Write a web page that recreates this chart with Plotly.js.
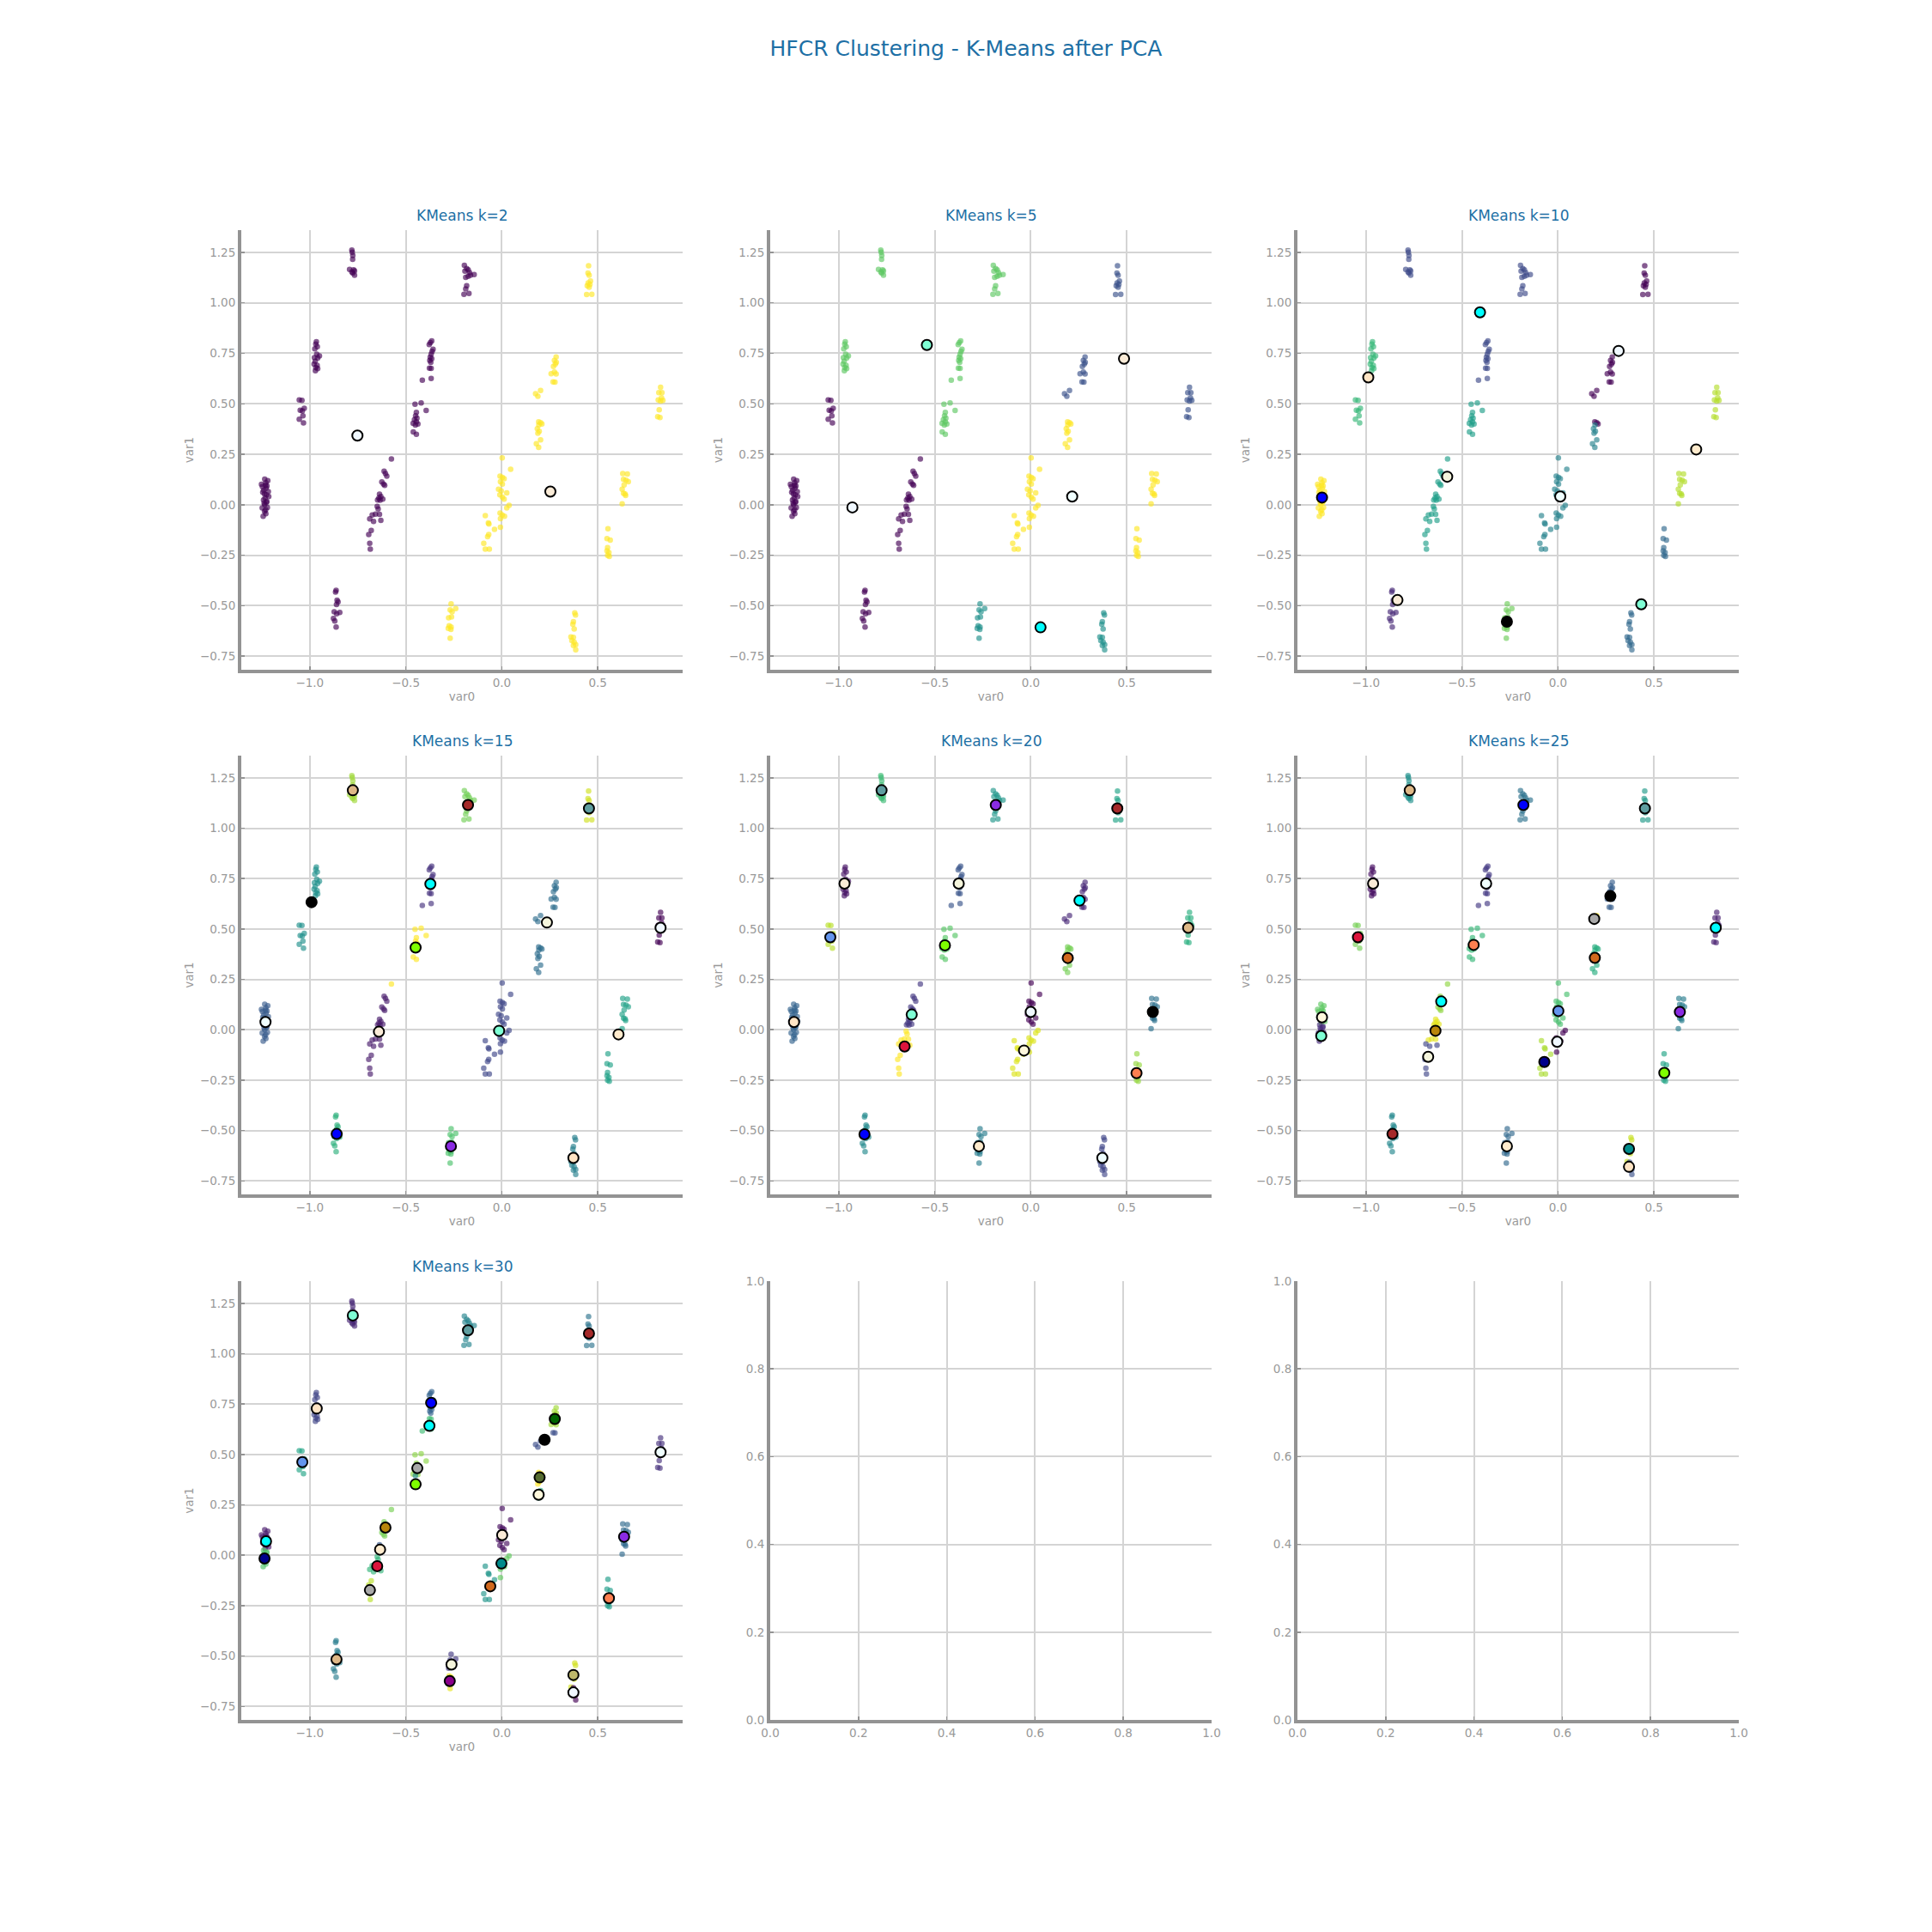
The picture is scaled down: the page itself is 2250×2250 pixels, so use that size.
<!DOCTYPE html>
<html><head><meta charset="utf-8">
<script src="https://cdn.plot.ly/plotly-3.0.1.min.js"></script>
<style>html,body{margin:0;padding:0;background:#fff}#chart{width:2250px;height:2250px}</style>
</head><body><div id="chart"></div>
<script>
// ---- data points (var0, var1) and their sub-group index ----
const pointX = [
-1.235,-1.219,-1.252,-1.247,-1.229,-1.223,-1.228,-1.240,-1.216,-1.236,-1.226,-1.214,-1.233,-1.245,-1.231,
-1.241,-1.224,-1.238,-1.235,-1.221,-1.248,-1.230,-1.236,-1.229,-1.243,-1.226,
-0.781,-0.779,-0.776,-0.777,-0.793,-0.772,-0.767,-0.776,-0.767,-0.781,
-0.966,-0.969,-0.961,-0.974,-0.964,-0.950,-0.976,-0.959,-0.972,-0.978,-0.962,-0.969,-0.971,-0.959,
-1.055,-1.041,-1.050,-1.039,-1.029,-1.036,-1.055,-1.033,
-0.365,-0.372,-0.378,-0.358,-0.363,-0.368,-0.373,-0.365,-0.375,-0.370,
-0.377,-0.368,-0.414,-0.368,
-0.452,-0.420,-0.394,-0.445,-0.449,-0.442,-0.455,-0.445,-0.462,-0.437,
-0.450,-0.461,-0.445,
-0.195,-0.183,-0.175,-0.192,-0.168,-0.144,-0.175,-0.188,-0.183,-0.188,-0.197,-0.171,-0.163,
-0.575,
-0.613,-0.606,-0.599,-0.625,-0.616,-0.610,
-0.637,-0.630,-0.640,-0.620,-0.647,-0.634,
-0.649,-0.644,-0.658,-0.637,-0.675,
-0.688,-0.668,-0.630,
-0.680,-0.693,-0.688,-0.685,
-0.863,-0.866,-0.858,-0.853,-0.861,-0.873,-0.844,-0.860,-0.877,-0.870,-0.863,
-0.264,-0.240,-0.269,-0.259,-0.277,-0.262,
-0.274,-0.264,-0.279,-0.265,-0.269,
0.002,0.046,-0.009,0.003,0.012,-0.007,0.003,-0.017,-0.003,0.026,-0.010,0.003,0.012,
0.038,0.026,-0.009,0.002,0.014,-0.007,-0.007,
-0.086,-0.070,-0.067,-0.038,-0.068,-0.074,-0.094,-0.086,-0.065,
0.192,0.202,0.209,
0.193,0.185,0.195,0.188,
0.202,0.180,0.192,
0.176,0.188,0.202,
0.267,0.277,
0.283,0.274,0.284,0.269,0.257,0.274,0.283,0.279,
0.452,0.449,0.455,0.462,0.450,0.445,0.455,0.459,0.442,0.469,
0.827,0.834,0.818,0.815,0.827,0.839,0.820,0.812,0.824,0.832,
0.630,0.654,0.634,0.647,0.659,0.637,0.627,0.634,0.645,0.627,0.642,
0.553,0.548,0.565,0.551,0.548,0.558,0.551,0.560,
0.380,0.384,0.373,0.370,0.377,0.360,
0.373,0.365,0.377,0.385,0.373,0.385
];
const pointY = [
0.127,0.119,0.101,0.090,0.109,0.093,0.082,0.073,0.065,0.054,0.049,0.041,0.033,0.062,0.097,
0.024,0.016,0.008,0.000,-0.013,-0.016,-0.025,-0.033,-0.044,-0.057,0.012,
1.261,1.251,1.235,1.215,1.166,1.163,1.158,1.147,1.137,1.153,
0.807,0.796,0.783,0.772,0.746,0.737,0.729,0.726,0.710,0.697,0.690,0.680,0.664,0.674,
0.519,0.517,0.468,0.465,0.478,0.440,0.424,0.405,
0.812,0.803,0.793,0.770,0.759,0.746,0.731,0.723,0.715,0.705,
0.677,0.675,0.617,0.626,
0.498,0.504,0.467,0.457,0.440,0.429,0.421,0.411,0.403,0.400,
0.395,0.361,0.349,
1.186,1.170,1.163,1.157,1.150,1.140,1.131,1.126,1.085,1.069,1.042,1.046,1.137,
0.227,
0.166,0.155,0.142,0.113,0.103,0.096,
0.052,0.041,0.033,0.028,0.024,0.023,
-0.008,-0.021,-0.046,-0.047,-0.051,
-0.070,-0.082,-0.077,
-0.127,-0.147,-0.191,-0.220,
-0.424,-0.432,-0.473,-0.481,-0.494,-0.530,-0.533,-0.540,-0.563,-0.576,-0.605,
-0.491,-0.514,-0.520,-0.530,-0.560,-0.556,
-0.599,-0.605,-0.612,-0.617,-0.661,
0.232,0.176,0.142,0.135,0.129,0.114,0.103,0.077,0.069,0.059,0.049,0.038,0.028,
-0.003,-0.016,-0.041,-0.051,-0.057,-0.069,-0.111,
-0.054,-0.090,-0.095,-0.122,-0.147,-0.158,-0.191,-0.220,-0.220,
0.411,0.406,0.400,
0.395,0.377,0.364,0.354,
0.321,0.302,0.284,
0.550,0.537,0.566,
0.608,0.607,
0.732,0.715,0.705,0.685,0.649,0.657,0.648,0.697,
1.184,1.147,1.137,1.108,1.098,1.085,1.077,1.091,1.041,1.042,
0.582,0.555,0.555,0.519,0.514,0.517,0.470,0.436,0.432,0.530,
0.155,0.152,0.126,0.122,0.114,0.098,0.077,0.057,0.046,0.005,0.054,
-0.119,-0.168,-0.175,-0.212,-0.228,-0.237,-0.250,-0.256,
-0.535,-0.546,-0.579,-0.592,-0.615,-0.654,
-0.657,-0.672,-0.680,-0.693,-0.697,-0.718
];
const pointGroup = [
0,0,0,0,0,0,0,0,0,0,0,0,0,0,0,
1,1,1,1,1,1,1,1,1,1,1,
2,2,2,2,2,2,2,2,2,2,
3,3,3,3,3,3,3,3,3,3,3,3,3,3,
4,4,4,4,4,4,4,4,
5,5,5,5,5,5,5,5,5,5,
6,6,6,6,
7,7,7,7,7,7,7,7,7,7,
8,8,8,
9,9,9,9,9,9,9,9,9,9,9,9,9,
10,
11,11,11,11,11,11,
12,12,12,12,12,12,
13,13,13,13,13,
14,14,14,
15,15,15,15,
16,16,16,16,16,16,16,16,16,16,16,
17,17,17,17,17,17,
18,18,18,18,18,
19,19,19,19,19,19,19,19,19,19,19,19,19,
20,20,20,20,20,20,20,
21,21,21,21,21,21,21,21,21,
22,22,22,
23,23,23,23,
24,24,24,
25,25,25,
26,26,
27,27,27,27,27,27,27,27,
28,28,28,28,28,28,28,28,28,28,
29,29,29,29,29,29,29,29,29,29,
30,30,30,30,30,30,30,30,30,30,30,
31,31,31,31,31,31,31,31,
32,32,32,32,32,32,
33,33,33,33,33,33
];

// ---- cluster label of each sub-group, per k ----
const kValues = [2, 5, 10, 15, 20, 25, 30];
const labelsK2  = [0,0,0,0,0,0,0,0,0,0,0,0,0,0,0,0,0,1,1,1,1,1,1,1,1,1,1,1,1,1,1,1,1,1];
const labelsK5  = [0,0,3,3,0,3,3,3,3,3,0,0,0,0,0,0,0,2,2,4,4,4,4,4,4,1,1,1,1,1,4,4,2,2];
const labelsK10 = [9,9,2,6,6,2,2,5,5,2,5,5,5,5,5,5,1,7,7,4,4,4,0,4,4,0,0,0,0,8,8,3,3,3];
const labelsK15 = [4,4,12,7,7,2,2,14,14,11,14,1,1,1,1,1,9,10,10,3,3,3,5,5,5,5,5,5,13,0,8,8,6,6];
const labelsK20 = [6,6,13,1,17,5,5,14,14,10,3,3,3,19,19,19,9,8,8,0,18,18,15,15,15,2,2,2,11,12,7,16,4,4];
const labelsK25 = [18,3,12,1,19,4,4,16,16,9,20,20,23,23,5,5,11,8,8,17,0,21,15,15,15,24,7,7,13,2,10,14,22,6];
const labelsK30 = [2,21,3,6,17,9,20,24,14,13,23,23,8,19,19,26,12,5,28,1,22,15,29,29,18,7,7,25,11,4,10,16,27,0];

// ---- centroids (label order) ----
const centX2  = [-0.752, 0.253];
const centY2  = [0.343, 0.065];
const centX5  = [-0.929, 0.486, 0.051, -0.541, 0.216];
const centY5  = [-0.013, 0.723, -0.607, 0.791, 0.041];
const centX10 = [0.316, -0.836, -0.406, 0.434, 0.012, -0.577, -0.988, -0.266, 0.720, -1.229];
const centY10 = [0.762, -0.472, 0.953, -0.493, 0.041, 0.139, 0.631, -0.579, 0.274, 0.036];
const centX15 = [0.827, -0.640, -0.372, -0.014, -1.231, 0.235, 0.373, -0.991, 0.608, -0.860, -0.265, -0.176, -0.776, 0.454, -0.449];
const centY15 = [0.506, -0.010, 0.723, -0.005, 0.038, 0.532, -0.636, 0.633, -0.023, -0.517, -0.578, 1.115, 1.188, 1.098, 0.408];
const centX20 = [0.000, -0.970, 0.254, -0.620, 0.373, -0.375, -1.233, 0.636, -0.270, -0.866, -0.182, 0.451, 0.820, -0.777, -0.447, 0.193, 0.551, -1.044, -0.035, -0.657];
const centY20 = [0.088, 0.725, 0.641, 0.075, -0.636, 0.725, 0.038, 0.088, -0.578, -0.519, 1.115, 1.098, 0.506, 1.188, 0.419, 0.356, -0.215, 0.459, -0.103, -0.083];
const centX25 = [-0.004, -0.963, 0.822, -1.233, -0.374, -0.676, 0.370, 0.273, -0.266, -0.180, 0.635, -0.862, -0.772, 0.453, 0.554, 0.192, -0.439, 0.002, -1.229, -1.042, -0.608, -0.071, 0.370, -0.638, 0.189];
const centY25 = [-0.060, 0.725, 0.506, -0.031, 0.725, -0.134, -0.680, 0.663, -0.578, 1.115, 0.088, -0.517, 1.188, 1.098, -0.214, 0.357, 0.421, 0.093, 0.062, 0.459, 0.140, -0.160, -0.591, -0.005, 0.550];
const centX30 = [0.373, 0.002, -1.228, -0.776, 0.827, -0.262, -0.964, 0.223, -0.634, -0.368, 0.637, 0.454, -0.861, -0.176, -0.449, -0.060, 0.558, -1.039, 0.192, -0.649, -0.377, -1.236, -0.002, -0.606, -0.440, 0.276, -0.687, 0.373, -0.271, 0.197];
const centY30 = [-0.681, 0.100, 0.069, 1.190, 0.511, -0.542, 0.728, 0.573, 0.028, 0.756, 0.092, 1.100, -0.517, 1.116, 0.352, -0.154, -0.213, 0.462, 0.300, -0.054, 0.642, -0.016, -0.041, 0.137, 0.432, 0.676, -0.173, -0.594, -0.624, 0.386];

const centroidColors = ['aliceblue','antiquewhite','aqua','aquamarine','azure','beige','bisque','black','blanchedalmond','blue','blueviolet','brown','burlywood','cadetblue','chartreuse','chocolate','coral','cornflowerblue','cornsilk','crimson','cyan','darkblue','darkcyan','darkgoldenrod','darkgray','darkgreen','darkgrey','darkkhaki','darkmagenta','darkolivegreen'];

const xTickVals = [-1.0, -0.5, 0.0, 0.5];
const yTickVals = [-0.75, -0.5, -0.25, 0.0, 0.25, 0.5, 0.75, 1.0, 1.25];
const emptyTickVals = [0.0, 0.2, 0.4, 0.6, 0.8, 1.0];
const mainTitle = 'HFCR Clustering - K-Means after PCA';
const xTitle = 'var0';
const yTitle = 'var1';

// ---- build figure ----
const labelSets = [labelsK2, labelsK5, labelsK10, labelsK15, labelsK20, labelsK25, labelsK30];
const centXs = [centX2, centX5, centX10, centX15, centX20, centX25, centX30];
const centYs = [centY2, centY5, centY10, centY15, centY20, centY25, centY30];

const W = 2250, H = 2250;
const colPx = [[281, 795], [897, 1411], [1511, 2025]];
const rowPx = [[268, 780], [880, 1391], [1492, 2003]];
const titleBlue = '#1d6fa5';
const grey = '#999999';
const font = 'DejaVu Sans, sans-serif';

const traces = [];
const annotations = [];
const layout = {
  width: W, height: H,
  margin: {l: 0, r: 0, t: 0, b: 0},
  paper_bgcolor: '#ffffff', plot_bgcolor: '#ffffff',
  showlegend: false,
  font: {family: font, color: grey},
  title: {text: mainTitle, x: 0.5, xanchor: 'center', y: 1 - 56 / H, yanchor: 'middle', yref: 'container',
          font: {family: font, size: 25, color: titleBlue}},
  annotations: annotations
};

function axisBase() {
  return {
    showline: true, linecolor: '#939393', linewidth: 4, mirror: false,
    showgrid: true, gridcolor: '#d4d4d4', gridwidth: 2,
    zeroline: false, ticks: 'inside', ticklen: 4, tickwidth: 1.5, tickcolor: '#939393',
    tickfont: {family: font, size: 13.5, color: grey}, fixedrange: true
  };
}

for (let i = 0; i < 9; i++) {
  const r = Math.floor(i / 3), c = i % 3;
  const xa = 'x' + (i + 1), ya = 'y' + (i + 1);
  const xk = 'xaxis' + (i + 1), yk = 'yaxis' + (i + 1);
  const xAxis = axisBase(), yAxis = axisBase();
  xAxis.domain = [colPx[c][0] / W, colPx[c][1] / W];
  yAxis.domain = [1 - rowPx[r][1] / H, 1 - rowPx[r][0] / H];
  xAxis.anchor = ya; yAxis.anchor = xa;
  if (i < kValues.length) {
    const k = kValues[i];
    const labels = labelSets[i];
    xAxis.range = [-1.357, 0.942];
    yAxis.range = [-0.817, 1.360];
    xAxis.tickvals = xTickVals; xAxis.tickformat = '.1f';
    yAxis.tickvals = yTickVals; yAxis.tickformat = '.2f';
    xAxis.title = {text: xTitle, font: {family: font, size: 13.5, color: grey}, standoff: 5};
    yAxis.title = {text: yTitle, font: {family: font, size: 13.5, color: grey}, standoff: 5};
    traces.push({
      type: 'scatter', mode: 'markers', xaxis: xa, yaxis: ya,
      x: pointX, y: pointY,
      marker: {size: 6.5, color: pointGroup.map(g => labels[g]), colorscale: 'Viridis',
               cmin: 0, cmax: k - 1, showscale: false, opacity: 0.65, line: {width: 0}},
      hoverinfo: 'skip'
    });
    traces.push({
      type: 'scatter', mode: 'markers', xaxis: xa, yaxis: ya,
      x: centXs[i], y: centYs[i],
      marker: {size: 12, color: centXs[i].map((_, j) => centroidColors[j]),
               line: {color: '#000000', width: 2}, opacity: 1},
      hoverinfo: 'skip'
    });
    annotations.push({
      text: 'KMeans k=' + k, xref: 'paper', yref: 'paper',
      x: (colPx[c][0] + colPx[c][1]) / 2 / W, xanchor: 'center',
      y: 1 - (rowPx[r][0] - 17) / H, yanchor: 'middle', showarrow: false,
      font: {family: font, size: 17, color: titleBlue}
    });
  } else {
    xAxis.range = [0, 1]; yAxis.range = [0, 1];
    xAxis.tickvals = emptyTickVals; xAxis.tickformat = '.1f';
    yAxis.tickvals = emptyTickVals; yAxis.tickformat = '.1f';
    traces.push({type: 'scatter', mode: 'markers', xaxis: xa, yaxis: ya, x: [], y: [], hoverinfo: 'skip'});
  }
  layout[xk] = xAxis; layout[yk] = yAxis;
}

Plotly.newPlot('chart', traces, layout, {staticPlot: true, displayModeBar: false});
</script>
</body></html>
